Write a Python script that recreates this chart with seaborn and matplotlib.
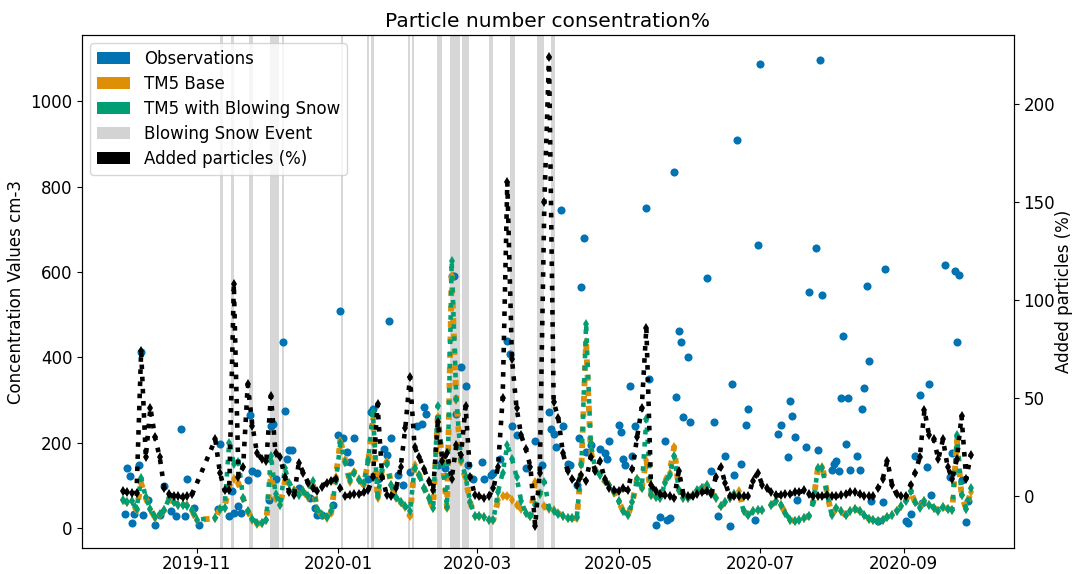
import matplotlib
matplotlib.use("Agg")
import numpy as np
import pandas as pd
import seaborn as sns
import matplotlib.pyplot as plt
import matplotlib.dates as mdates
from matplotlib.patches import Patch

nan = np.nan

# Model output every second day, 2019-09-30 .. 2020-10-01 (184 steps)
model_dates = pd.date_range("2019-09-30", periods=184, freq="2D")

tm5_base = [
    65, 60, 63, 42, 105, 70, 45, 23, 30, 42,
    68, 60, 54, 54, 54, 40, 19, nan, nan, nan,
    23, 45, 48, 100, 115, 105, 70, 40, 20, 10,
    12, 19, 124, 70, 54, 110, 105, 90, 77, 86,
    72, 100, 45, 30, 23, 35, 120, 205, 160, 109,
    132, 115, 101, 156, 255, 70, 132, 156, 101, 70,
    60, 50, 28, 147, 124, 95, 70, 47, 260, 156,
    47, 590, 300, 156, 115, 60, 28, 28, 25, 20,
    19, 65, 75, 75, 65, 55, 45, 35, 28, 109,
    81, 51, 45, 42, 35, 28, 23, 23, 23, 147,
    436, 180, 135, 124, 110, 100, 85, 63, 40, 30,
    60, 116, 93, 160, 77, 72, 70, 109, 130, 190,
    90, 70, 70, 78, 86, 95, 101, 85, 70, 51,
    60, 70, 80, 86, 40, 30, 40, 42, 42, nan,
    54, 63, 55, 35, 20, 16, 18, 23, 28, 60,
    140, 144, 80, 30, 47, 40, 30, 40, 45, 40,
    30, 22, 18, 16, 20, 25, 30, 40, 52, 65,
    86, 60, 50, 63, 55, 48, 40, 50, 45, 42,
    205, 77, 45, 85,
]

tm5_snow = [
    65, 62, 63, 45, 117, 72, 45, 25, 32, 42,
    70, 60, 55, 54, 52, 42, 20, nan, nan, nan,
    23, 45, 48, 200, 150, 156, 70, 40, 22, 12,
    12, 20, 170, 80, 54, 140, 105, 88, 77, 86,
    75, 110, 45, 30, 25, 40, 110, 200, 155, 112,
    130, 112, 105, 160, 272, 75, 135, 150, 101, 72,
    60, 52, 40, 140, 124, 95, 70, 47, 287, 156,
    50, 625, 303, 160, 120, 60, 28, 28, 25, 20,
    19, 85, 130, 194, 163, 120, 63, 35, 28, 54,
    80, 109, 47, 40, 32, 28, 23, 23, 25, 150,
    478, 200, 135, 124, 110, 100, 85, 63, 40, 30,
    60, 116, 93, 256, 77, 72, 70, 105, 125, 170,
    90, 70, 70, 78, 90, 95, 101, 85, 70, 51,
    60, 70, 80, 77, 40, 30, 40, 42, 42, nan,
    54, 63, 55, 35, 20, 16, 18, 23, 28, 60,
    140, 140, 80, 30, 47, 40, 30, 40, 45, 40,
    30, 22, 18, 16, 20, 25, 30, 40, 52, 63,
    86, 60, 47, 63, 55, 48, 40, 50, 45, 42,
    217, 77, 45, 93,
]

added_pct = [
    2.5, 2, 1.5, 1.5, 74, 20, 45, 30, 20, 4,
    1, 0, 0, -0.5, 0, 1, nan, nan, nan, nan,
    29, 12, 3, 3, 108, 10, 15, 57, 36, 22,
    19, 18, 51, 22, 20, 10, 2, 0.5, 17, 12,
    7, 4, 2.5, 5, 7, 8, 9, 4, 0, 0.5,
    1, 1, 2, 3, 10, 47, 10, 0.5, 0, 4,
    15, 35, 61, 25, 20, 14, 8, 3, 38, 18,
    22, 9, 26, 21, 46, 10, 0.5, 0, -1, 0,
    4, 15, 50, 160, 70, 45, 31, 24, 15, -15,
    12, 150, 224, 48, 40, 22, 13, 9, 6, 11,
    8, 20, 13, 18, 9, 4, 3, 2.5, 4, 3,
    14, 30, 45, 86, 6, 2.5, 1, 0.5, 0, -1,
    13, 1, 0, 0, 1, 2, 2.5, 1, 10, 15,
    7, 0, 0, 0, 0, 0, 8, 12, 6, 4,
    2, 0.5, 0.5, 1, 1, 2, 2, 3, 1, 0,
    0, 0, 0.5, 0, 0, 0.5, 1, 2, 2, 1,
    0, 0, 0, 4, 9, 18, 6, 1, 0, 0,
    6, 12, 20, 44, 31, 29, 19, 29, 15, 9,
    19, 41, 9, 21,
]

# Station observations (daily means)
obs_dates = [
    "2019-10-01", "2019-10-02", "2019-10-03", "2019-10-04", "2019-10-05", "2019-10-07", "2019-10-08",
    "2019-10-09", "2019-10-11", "2019-10-14", "2019-10-16", "2019-10-18", "2019-10-21", "2019-10-23",
    "2019-10-25", "2019-10-27", "2019-10-28", "2019-10-31",
    "2019-11-02", "2019-11-10", "2019-11-11", "2019-11-15", "2019-11-16", "2019-11-17", "2019-11-19",
    "2019-11-20", "2019-11-23", "2019-11-24", "2019-11-25", "2019-11-27",
    "2019-12-02", "2019-12-03", "2019-12-04", "2019-12-05", "2019-12-08", "2019-12-09", "2019-12-10",
    "2019-12-11", "2019-12-12", "2019-12-15", "2019-12-20", "2019-12-22", "2019-12-23", "2019-12-25",
    "2019-12-30",
    "2020-01-01", "2020-01-02", "2020-01-03", "2020-01-05", "2020-01-06", "2020-01-08", "2020-01-14",
    "2020-01-15", "2020-01-16", "2020-01-18", "2020-01-21", "2020-01-22", "2020-01-23", "2020-01-24",
    "2020-01-27", "2020-01-29",
    "2020-02-01", "2020-02-04", "2020-02-06", "2020-02-07", "2020-02-08", "2020-02-13", "2020-02-16",
    "2020-02-19", "2020-02-20", "2020-02-21", "2020-02-23", "2020-02-25", "2020-02-26", "2020-02-28",
    "2020-03-03", "2020-03-04", "2020-03-07", "2020-03-08", "2020-03-11", "2020-03-14", "2020-03-15",
    "2020-03-16", "2020-03-18", "2020-03-22", "2020-03-26", "2020-03-29",
    "2020-04-01", "2020-04-02", "2020-04-03", "2020-04-04", "2020-04-06", "2020-04-07", "2020-04-09",
    "2020-04-10", "2020-04-13", "2020-04-14", "2020-04-15", "2020-04-16", "2020-04-17", "2020-04-19",
    "2020-04-23", "2020-04-25", "2020-04-26", "2020-04-27",
    "2020-05-01", "2020-05-02", "2020-05-03", "2020-05-04", "2020-05-06", "2020-05-07", "2020-05-08",
    "2020-05-13", "2020-05-14", "2020-05-17", "2020-05-19", "2020-05-21", "2020-05-22", "2020-05-23",
    "2020-05-25", "2020-05-26", "2020-05-27", "2020-05-28", "2020-05-29", "2020-05-31",
    "2020-06-01", "2020-06-08", "2020-06-10", "2020-06-11", "2020-06-13", "2020-06-16", "2020-06-18",
    "2020-06-19", "2020-06-20", "2020-06-21", "2020-06-23", "2020-06-25", "2020-06-26", "2020-06-29",
    "2020-06-30",
    "2020-07-01", "2020-07-09", "2020-07-10", "2020-07-13", "2020-07-14", "2020-07-15", "2020-07-16",
    "2020-07-17", "2020-07-21", "2020-07-22", "2020-07-25", "2020-07-26", "2020-07-27", "2020-07-28",
    "2020-08-01", "2020-08-02", "2020-08-03", "2020-08-04", "2020-08-05", "2020-08-06", "2020-08-07",
    "2020-08-08", "2020-08-09", "2020-08-12", "2020-08-13", "2020-08-14", "2020-08-15", "2020-08-16",
    "2020-08-17", "2020-08-18", "2020-08-21", "2020-08-23", "2020-08-24",
    "2020-09-02", "2020-09-03", "2020-09-04", "2020-09-06", "2020-09-08", "2020-09-09", "2020-09-11",
    "2020-09-12", "2020-09-13", "2020-09-19", "2020-09-21", "2020-09-22", "2020-09-23", "2020-09-24",
    "2020-09-25", "2020-09-26", "2020-09-28", "2020-09-29",
]
obs_values = [
    33, 140, 121, 12, 33, 147, 413,
    30, 65, 7, 30, 98, 40, 28,
    233, 28, 116, 47,
    7, 44, 198, 28, 86, 35, 51,
    35, 112, 265, 133, 128,
    65, 240, 245, 116, 435, 275, 163,
    182, 182, 93, 70, 47, 30, 30,
    54,
    217, 508, 210, 179, 156, 210, 116,
    272, 280, 116, 186, 171, 484, 210,
    124, 101,
    132, 240, 245, 284, 268, 147, 140,
    590, 590, 268, 377, 333, 147, 116,
    156, 116, 124, 128, 163, 438, 408,
    240, 217, 140, 203, 147,
    272, 233, 221, 191, 746, 240, 151,
    147, 101, 210, 564, 680, 179, 194,
    186, 175, 163, 205,
    242, 226, 163, 147, 333, 170, 238,
    750, 350, 7, 26, 203, 19, 23,
    834, 308, 461, 436, 261, 400,
    249, 587, 133, 249, 28, 170, 5,
    338, 124, 909, 151, 242, 280, 19,
    664,
    1086, 221, 242, 167, 298, 263, 214,
    65, 191, 552, 657, 182, 1097, 545,
    135, 151, 158, 133, 305, 450, 196,
    305, 137, 170, 137, 280, 328, 566,
    391, 63, 16, 61, 608,
    16, 12, 33, 170, 312, 58, 142,
    338, 77, 617, 119, 175, 603, 436,
    594, 112, 14, 63,
]

# Blowing snow events (start, end)
snow_events = [
    ("2019-11-10 22:00", "2019-11-12 05:00"),
    ("2019-11-15 22:00", "2019-11-16 22:00"),
    ("2019-11-23 10:00", "2019-11-25 02:00"),
    ("2019-12-02 10:00", "2019-12-06 07:00"),
    ("2019-12-07 14:00", "2019-12-08 12:00"),
    ("2020-01-02 07:00", "2020-01-03 05:00"),
    ("2020-01-13 14:00", "2020-01-14 12:00"),
    ("2020-01-15 07:00", "2020-01-16 14:00"),
    ("2020-01-31 07:00", "2020-02-01 02:00"),
    ("2020-02-01 22:00", "2020-02-02 19:00"),
    ("2020-02-12 14:00", "2020-02-14 19:00"),
    ("2020-02-18 07:00", "2020-02-22 12:00"),
    ("2020-02-23 10:00", "2020-02-26 12:00"),
    ("2020-03-06 02:00", "2020-03-08 00:00"),
    ("2020-03-15 05:00", "2020-03-17 07:00"),
    ("2020-03-26 19:00", "2020-03-29 22:00"),
    ("2020-04-01 19:00", "2020-04-03 19:00"),
]

assert len(tm5_base) == len(tm5_snow) == len(added_pct) == len(model_dates)
assert len(obs_dates) == len(obs_values)

pal = sns.color_palette("colorblind")
c_obs, c_base, c_snow = pal[0], pal[1], pal[2]
c_event = "lightgrey"

model = pd.DataFrame({"date": model_dates, "base": tm5_base,
                      "snow": tm5_snow, "added": added_pct})
obs = pd.DataFrame({"date": pd.to_datetime(obs_dates), "value": obs_values})

plt.rcParams.update({"font.size": 12, "xtick.labelsize": 12, "ytick.labelsize": 12,
                     "xtick.major.pad": 1.5})

fig, ax = plt.subplots(figsize=(10.74, 5.74), dpi=100)
fig.subplots_adjust(left=0.0764, right=0.944, top=0.939, bottom=0.045)

for start, end in snow_events:
    ax.axvspan(pd.Timestamp(start), pd.Timestamp(end), color=c_event,
               alpha=0.9, lw=0, zorder=0)

sns.scatterplot(data=obs, x="date", y="value", ax=ax, color=c_obs,
                s=34, linewidth=0, zorder=2)

line_kw = dict(linestyle=":", marker="d", markersize=5.5, markeredgewidth=0,
               estimator=None)
sns.lineplot(data=model[["date", "base"]].dropna(), x="date", y="base", ax=ax,
             color=c_base, linewidth=4.2, markeredgecolor=c_base, zorder=3, **line_kw)
sns.lineplot(data=model[["date", "snow"]].dropna(), x="date", y="snow", ax=ax,
             color=c_snow, linewidth=3.3, markeredgecolor=c_snow, zorder=4, **line_kw)

ax.set_xlim(pd.Timestamp("2019-09-12 12:00"), pd.Timestamp("2020-10-18 14:00"))
ax.set_ylim(-47, 1155)
ax.set_yticks([0, 200, 400, 600, 800, 1000])
ax.xaxis.set_major_locator(mdates.MonthLocator(bymonth=[1, 3, 5, 7, 9, 11]))
ax.xaxis.set_major_formatter(mdates.DateFormatter("%Y-%m"))
ax.set_xlabel("")
ax.set_ylabel("Concentration Values cm-3", fontsize=12)
ax.set_title("Particle number consentration%", fontsize=14.5)

ax2 = ax.twinx()
sns.lineplot(data=model[["date", "added"]].dropna(), x="date", y="added", ax=ax2,
             color="black", linewidth=3.3, markeredgecolor="black", **line_kw)
ax2.set_ylim(-26.4, 235)
ax2.set_yticks([0, 50, 100, 150, 200])
ax2.set_xlabel("")
ax2.set_ylabel("Added particles (%)", fontsize=12, labelpad=0)

handles = [
    Patch(facecolor=c_obs, label="Observations"),
    Patch(facecolor=c_base, label="TM5 Base"),
    Patch(facecolor=c_snow, label="TM5 with Blowing Snow"),
    Patch(facecolor=c_event, label="Blowing Snow Event"),
    Patch(facecolor="black", label="Added particles (%)"),
]
ax2.legend(handles=handles, loc="upper left", fontsize=12, labelspacing=0.42)

fig.savefig("out.png", dpi=100)
